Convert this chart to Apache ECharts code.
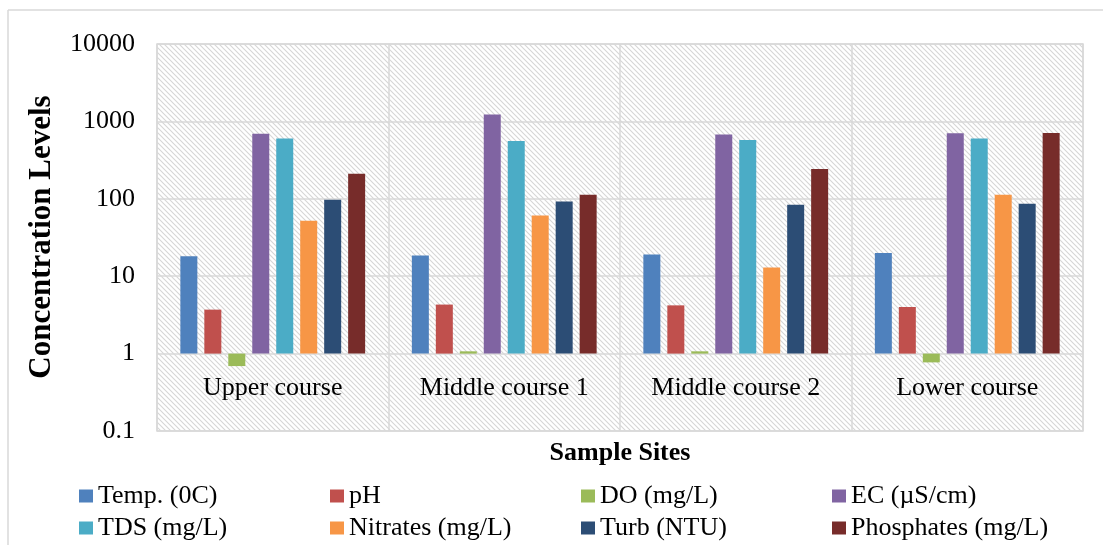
<!DOCTYPE html>
<html>
<head>
<meta charset="utf-8">
<script src="https://cdn.jsdelivr.net/npm/echarts@6/dist/echarts.min.js"></script>
<style>html,body{margin:0;padding:0;background:#fff;}#c{width:1103px;height:545px;}</style>
</head>
<body>
<div id="c"></div>
<script>
const categories = ['Upper course', 'Middle course 1', 'Middle course 2', 'Lower course'];
const seriesNames = ['Temp. (0C)', 'pH', 'DO (mg/L)', 'EC (\u00b5S/cm)', 'TDS (mg/L)', 'Nitrates (mg/L)', 'Turb (NTU)', 'Phosphates (mg/L)'];
const temp = [18.1, 18.5, 19, 20];
const ph = [3.7, 4.3, 4.2, 4.0];
const dissolvedO2 = [0.69, 1.07, 1.07, 0.77];
const ec = [690, 1230, 678, 702];
const tds = [600, 560, 577, 600];
const nitrates = [52, 61, 13, 113];
const turb = [97, 92, 84, 86];
const phosphates = [210, 113, 243, 709];
const yTicks = [0.1, 1, 10, 100, 1000, 10000];
const colors = ['#4F81BD', '#C0504D', '#9BBB59', '#8064A2', '#4BACC6', '#F79646', '#2C4D75', '#772C2A'];
const values = [temp, ph, dissolvedO2, ec, tds, nitrates, turb, phosphates];

function hatch() {
  const s = 5;
  const c = document.createElement('canvas');
  c.width = s; c.height = s;
  const g = c.getContext('2d');
  g.fillStyle = '#ffffff';
  g.fillRect(0, 0, s, s);
  g.strokeStyle = '#d6d6d6';
  g.lineWidth = 1.1;
  g.beginPath();
  g.moveTo(-1, -1); g.lineTo(s + 1, s + 1);
  g.moveTo(-1, s - 1); g.lineTo(1, s + 1);
  g.moveTo(s - 1, -1); g.lineTo(s + 1, 1);
  g.stroke();
  return { image: c, repeat: 'repeat' };
}

const font = 'Liberation Serif';
const chart = echarts.init(document.getElementById('c'));
const colX = [79, 330, 581, 832];
const rowY = [483, 515];
const lt = { fontFamily: font, fontSize: 26, color: '#000', fontWeight: 'normal' };
chart.setOption({
  animation: false,
  textStyle: { fontFamily: font },
  grid: {
    left: 157, top: 44, right: 20, bottom: 114,
    show: true, borderColor: '#d9d9d9', borderWidth: 1.5,
    backgroundColor: hatch()
  },
  legend: seriesNames.map((n, i) => ({
    data: [{ name: n, textStyle: lt }], left: colX[i % 4], top: rowY[Math.floor(i / 4)],
    itemWidth: 14, itemHeight: 13, itemGap: 0, icon: 'rect', padding: 0,
    textStyle: lt
  })),
  xAxis: {
    type: 'category',
    data: categories,
    axisLine: { show: false },
    axisTick: { show: false },
    splitLine: { show: true, lineStyle: { color: '#d9d9d9', width: 1.5 } },
    axisLabel: { margin: -56, fontSize: 26, lineHeight: 26, color: '#000', fontFamily: font }
  },
  yAxis: {
    type: 'log',
    logBase: 10,
    min: yTicks[0],
    max: yTicks[yTicks.length - 1],
    axisLine: { show: false },
    axisTick: { show: false },
    splitLine: { show: true, lineStyle: { color: '#d9d9d9', width: 1.5 } },
    axisLabel: {
      margin: 22, fontSize: 26, color: '#000', fontFamily: font,
      formatter: v => String(yTicks.find(t => Math.abs(t - v) / t < 1e-6) ?? v)
    }
  },
  graphic: [
    { type: 'line', shape: { x1: 8, y1: 10, x2: 1103, y2: 10 }, style: { stroke: '#d9d9d9', lineWidth: 1.5 }, silent: true },
    { type: 'line', shape: { x1: 8, y1: 10, x2: 8, y2: 545 }, style: { stroke: '#d9d9d9', lineWidth: 1.5 }, silent: true },
    { type: 'text', x: 620, y: 453, style: { text: 'Sample Sites', font: 'bold 26px "Liberation Serif"', fill: '#000', textAlign: 'center', textVerticalAlign: 'middle' } },
    { type: 'text', x: 42, y: 237, rotation: Math.PI / 2, style: { text: 'Concentration Levels', font: 'bold 31px "Liberation Serif"', fill: '#000', textAlign: 'center', textVerticalAlign: 'middle' } }
  ],
  series: seriesNames.map((n, i) => ({
    name: n,
    type: 'bar',
    data: values[i],
    barWidth: 17,
    barGap: '41%',
    itemStyle: { color: colors[i] }
  }))
});
</script>
</body>
</html>
